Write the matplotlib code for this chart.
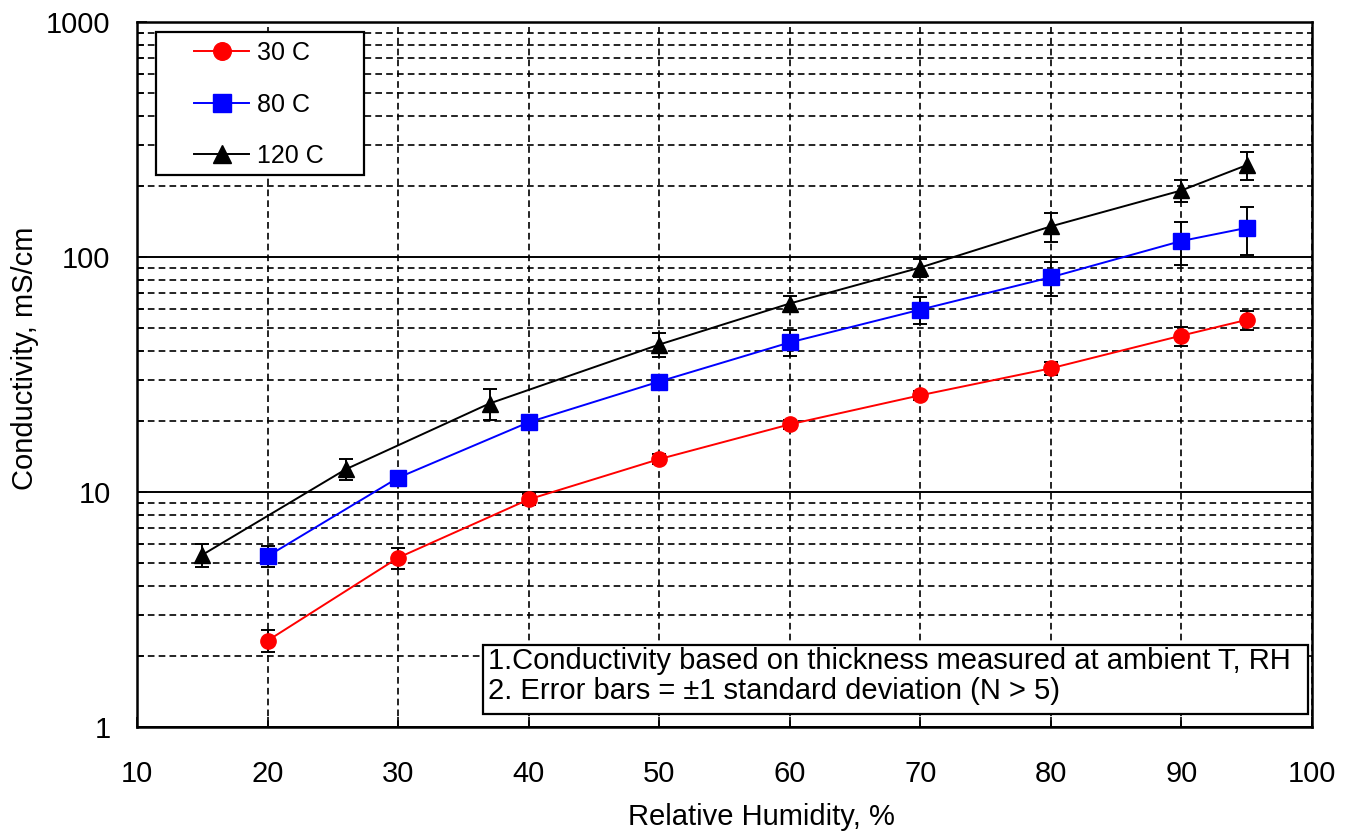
import matplotlib
matplotlib.use("Agg")
import matplotlib.pyplot as plt
from matplotlib.patches import Rectangle
from matplotlib.ticker import FixedLocator, NullFormatter, LogLocator

plt.rcParams["font.family"] = ["Liberation Sans", "DejaVu Sans"]

rh_30 = [20, 30, 40, 50, 60, 70, 80, 90, 95]
cond_30 = [2.33, 5.25, 9.3, 13.8, 19.4, 25.8, 33.6, 46.3, 54.0]
err_30 = [0.25, 0.55, 0.5, 0.7, 0.8, 1.2, 2.0, 4.3, 5.0]

rh_80 = [20, 30, 40, 50, 60, 70, 80, 90, 95]
cond_80 = [5.33, 11.5, 19.8, 29.5, 43.3, 59.7, 82.0, 117, 133]
err_80 = [0.55, 0.8, 1.0, 2.0, 5.5, 8.0, 13.5, 24.5, 31]

rh_120 = [15, 26, 37, 50, 60, 70, 80, 90, 95]
cond_120 = [5.4, 12.5, 23.8, 42.4, 63.4, 90.2, 135, 192, 246]
err_120 = [0.6, 1.3, 3.6, 5.0, 5.0, 8.0, 19, 21, 33]

x_ticks = [10, 20, 30, 40, 50, 60, 70, 80, 90, 100]
y_ticks = [1, 10, 100, 1000]
y_ticklabels = ["1", "10", "100", "1000"]

note = ("1.Conductivity based on thickness measured at ambient T, RH\n"
        "2. Error bars = \u00b11 standard deviation (N > 5)")

W, H = 1349, 834
L, R, T, B = 137, 1312, 22, 727
fig = plt.figure(figsize=(W / 100, H / 100), dpi=100)
ax = fig.add_axes([L / W, (H - B) / H, (R - L) / W, (B - T) / H])


def ax_x(px):
    return (px - L) / (R - L)


def ax_y(py):
    return (B - py) / (B - T)


ax.set_yscale("log")
ax.set_xlim(10, 100)
ax.set_ylim(1, 1000)

series = [
    (rh_30, cond_30, err_30, "red", "o", "30 C"),
    (rh_80, cond_80, err_80, "blue", "s", "80 C"),
    (rh_120, cond_120, err_120, "black", "^", "120 C"),
]
for x, y, e, c, m, lab in series:
    ax.errorbar(x, y, yerr=e, fmt="none", ecolor="black", elinewidth=1.4,
                capsize=5, capthick=1.4, zorder=3)
    ax.plot(x, y, color=c, marker=m, markersize=11, lw=1.4,
            markeredgecolor=c, label=lab, zorder=4)

ax.xaxis.set_major_locator(FixedLocator(x_ticks))
ax.yaxis.set_major_locator(FixedLocator(y_ticks))
ax.set_yticklabels(y_ticklabels)
ax.yaxis.set_minor_locator(LogLocator(base=10, subs=range(2, 10)))
ax.yaxis.set_minor_formatter(NullFormatter())

ax.grid(True, which="major", axis="y", color="black", lw=1.4, ls="-")
ax.grid(True, which="minor", axis="y", color="black", lw=1.2, ls=(0, (4, 2.5)))
ax.grid(True, which="major", axis="x", color="black", lw=1.2, ls=(0, (4, 2.5)))

ax.tick_params(axis="both", which="both", direction="in", labelsize=21,
               color="black", width=1.2)
ax.tick_params(axis="x", which="major", length=7, pad=24)
ax.tick_params(axis="y", which="major", length=7, pad=19)
ax.tick_params(axis="y", which="minor", length=5)
for s in ax.spines.values():
    s.set_linewidth(1.8)

ax.set_xlabel("Relative Humidity, %", fontsize=21, va="top")
ax.xaxis.set_label_coords(ax_x(761), ax_y(803))
ax.set_ylabel("Conductivity, mS/cm", fontsize=21)
ax.yaxis.set_label_coords(ax_x(39), ax_y(358))

# legend: entries without frame, frame drawn as its own box
leg = ax.legend(loc="upper left", bbox_to_anchor=(ax_x(194), ax_y(41)),
                borderaxespad=0, borderpad=0, fontsize=18, frameon=False,
                handlelength=2.2, labelspacing=1.1, handletextpad=0.32,
                markerscale=1.15)
leg.set_zorder(6)
ax.add_patch(Rectangle((ax_x(156), ax_y(175)), ax_x(364) - ax_x(156),
                       ax_y(32) - ax_y(175), transform=ax.transAxes,
                       fc="white", ec="black", lw=1.6, zorder=5))

# note box
ax.add_patch(Rectangle((ax_x(483), ax_y(714)), ax_x(1308) - ax_x(483),
                       ax_y(645) - ax_y(714), transform=ax.transAxes,
                       fc="white", ec="black", lw=1.6, zorder=5))
ax.text(ax_x(488), ax_y(676), note, transform=ax.transAxes, fontsize=21,
        va="center", ha="left", linespacing=1.05, zorder=6)

fig.savefig("out.png", dpi=100)
